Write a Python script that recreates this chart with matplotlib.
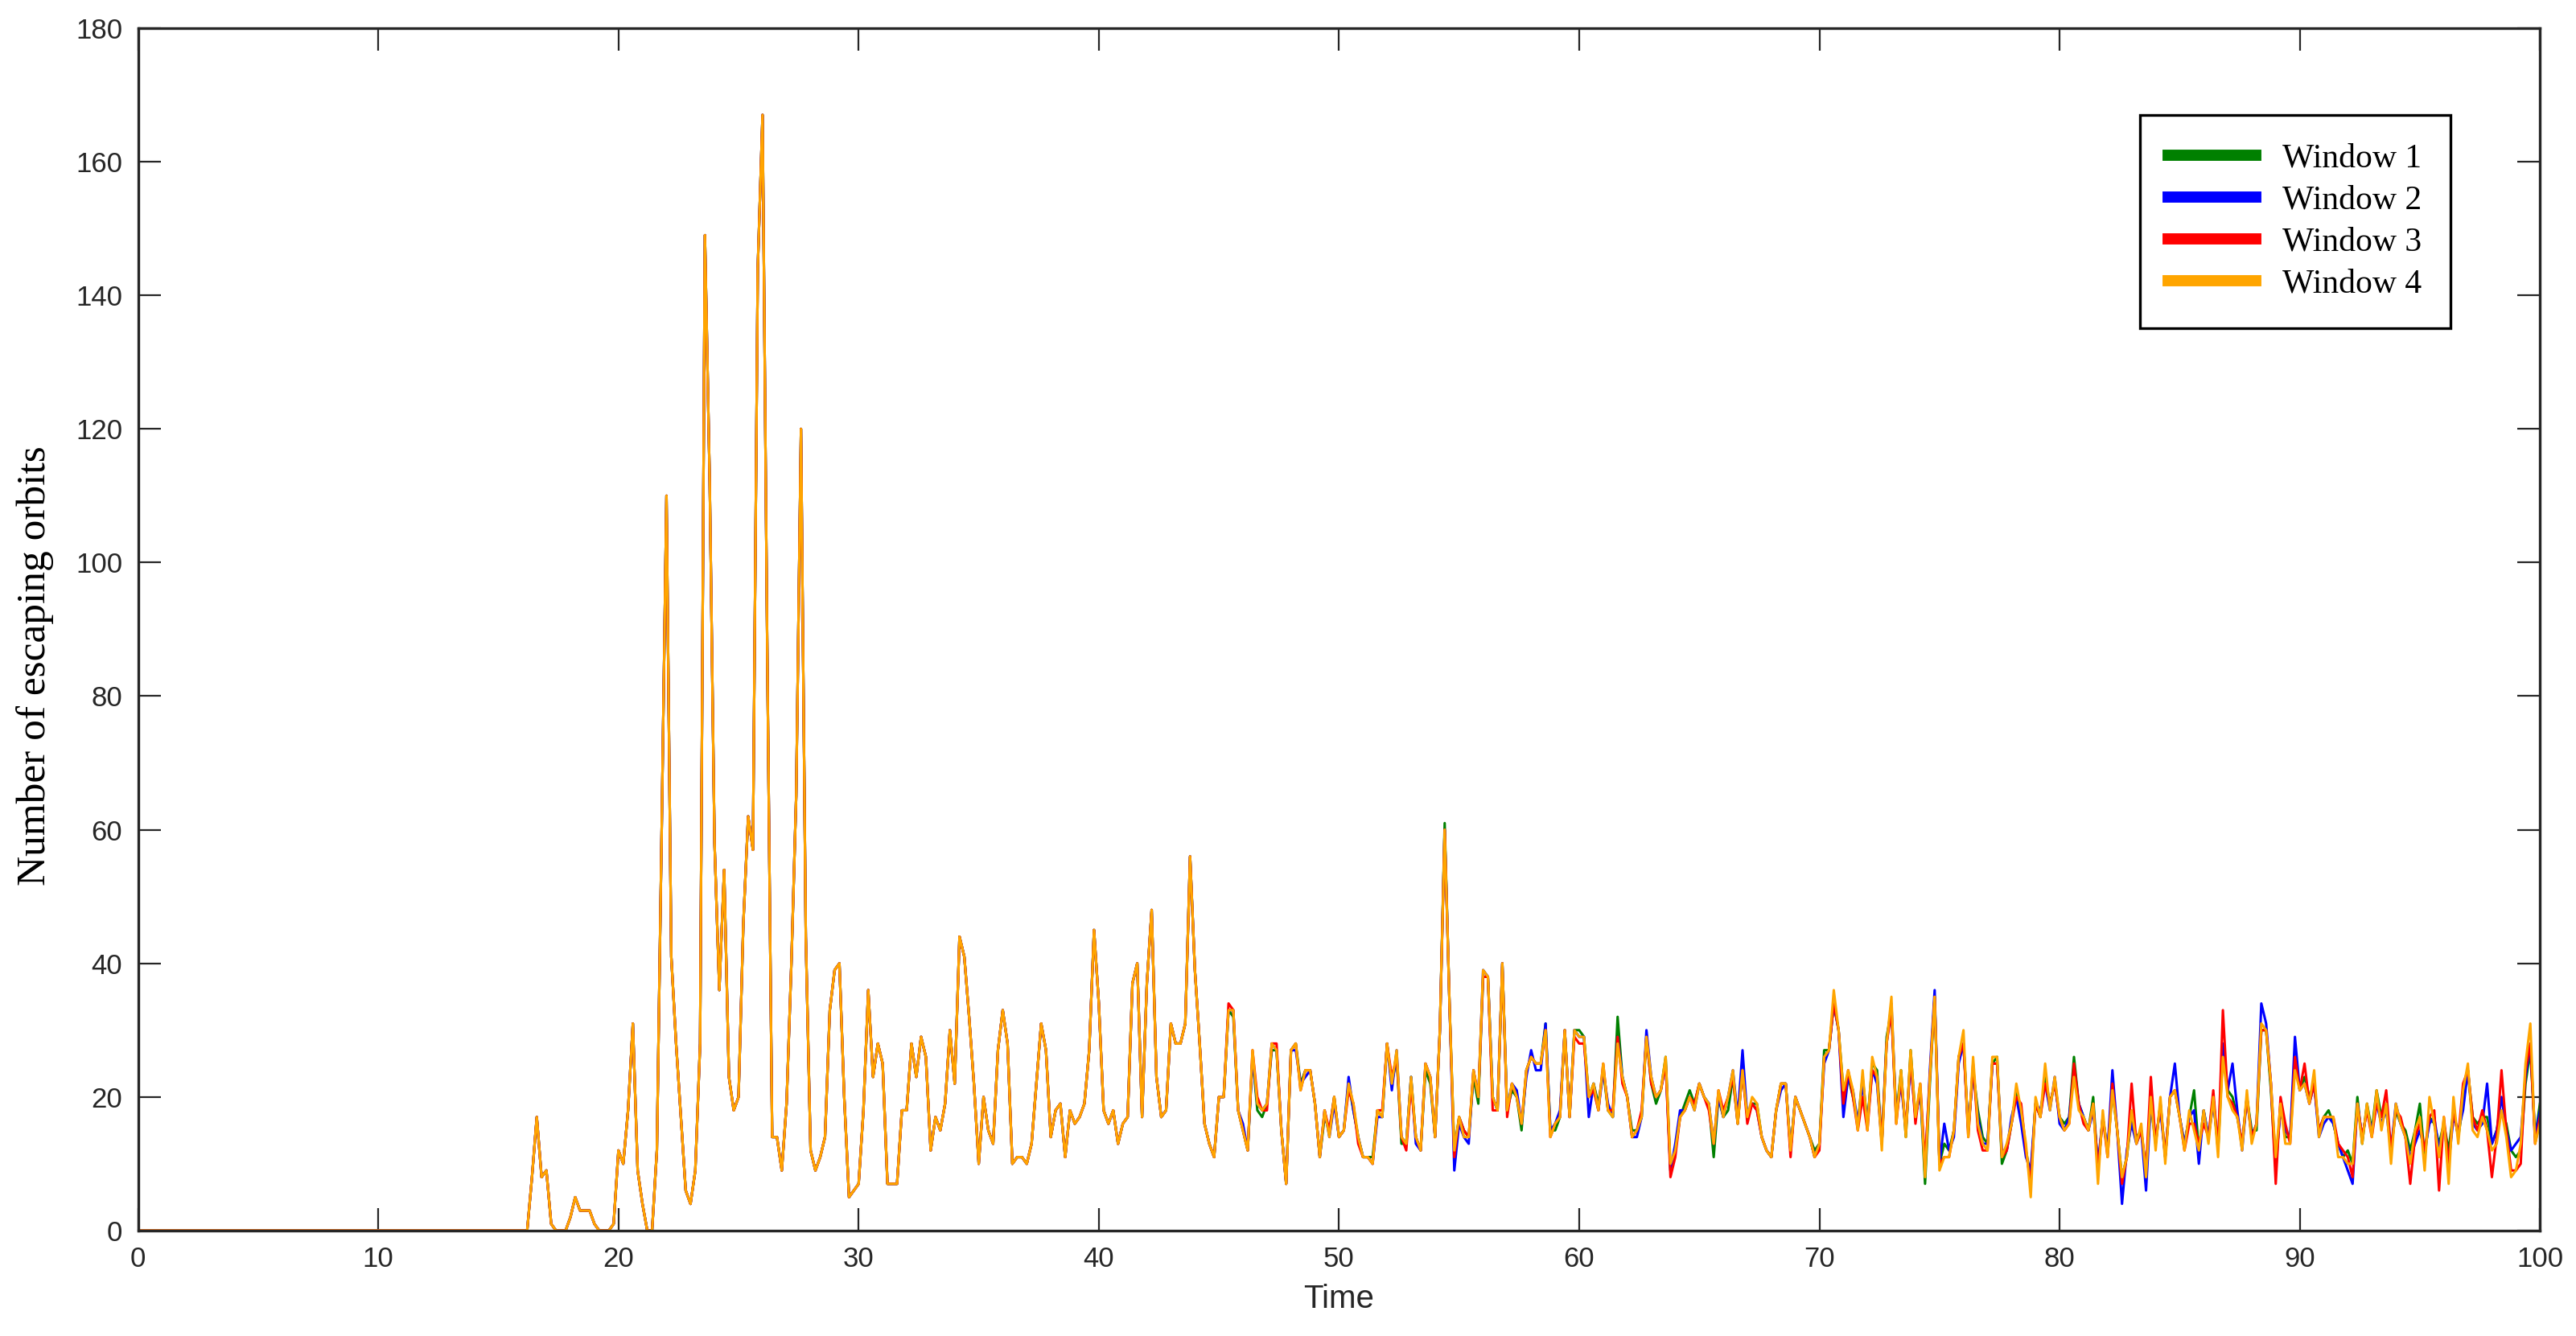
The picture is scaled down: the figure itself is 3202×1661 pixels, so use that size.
import matplotlib.pyplot as plt
import numpy as np

plt.rcParams['font.family'] = ['Liberation Sans', 'DejaVu Sans']

# time axis (step 0.2)
t = np.linspace(0, 100, 501)

# t = 0 .. 15.8 : nothing escapes
quiet = [0] * 80

# t = 16.0 .. 44.8 : all four windows coincide
early = [
    0, 0, 8, 17, 8, 9, 1, 0, 0, 0,
    2, 5, 3, 3, 3, 1, 0, 0, 0, 1,
    12, 10, 18, 31, 9, 4, 0, 0, 12, 60,
    110, 41, 28, 17, 6, 4, 9, 28, 149, 112,
    58, 36, 54, 23, 18, 20, 46, 62, 57, 144,
    167, 85, 14, 14, 9, 19, 40, 65, 120, 44,
    12, 9, 11, 14, 33, 39, 40, 20, 5, 6,
    7, 18, 36, 23, 28, 25, 7, 7, 7, 18,
    18, 28, 23, 29, 26, 12, 17, 15, 19, 30,
    22, 44, 41, 32, 22, 10, 20, 15, 13, 27,
    33, 28, 10, 11, 11, 10, 13, 22, 31, 27,
    14, 18, 19, 11, 18, 16, 17, 19, 27, 45,
    34, 18, 16, 18, 13, 16, 17, 37, 40, 17,
    37, 48, 23, 17, 18, 31, 28, 28, 31, 56,
    39, 28, 16, 13, 11,
]

# t = 45.0 .. 100.0
w1_late = [
    20, 20, 33, 32, 18, 15, 12, 26, 18, 17,
    19, 27, 27, 15, 7, 27, 28, 22, 24, 24,
    19, 11, 17, 15, 20, 14, 15, 22, 18, 14,
    11, 11, 11, 18, 17, 28, 22, 26, 13, 13,
    23, 14, 12, 24, 22, 14, 30, 61, 34, 12,
    17, 15, 14, 23, 19, 38, 38, 20, 18, 40,
    18, 21, 20, 15, 24, 26, 25, 25, 31, 15,
    15, 17, 30, 17, 30, 30, 29, 20, 22, 19,
    24, 18, 17, 32, 23, 20, 15, 15, 17, 29,
    22, 19, 21, 26, 9, 12, 17, 19, 21, 19,
    22, 20, 19, 11, 20, 17, 18, 23, 16, 24,
    17, 19, 19, 14, 12, 11, 18, 22, 22, 12,
    20, 18, 16, 14, 12, 13, 27, 27, 34, 30,
    21, 23, 20, 16, 23, 16, 25, 24, 13, 29,
    33, 17, 24, 14, 27, 17, 21, 7, 22, 35,
    10, 13, 12, 15, 26, 28, 15, 24, 18, 14,
    13, 25, 26, 10, 12, 16, 21, 17, 12, 8,
    19, 17, 23, 19, 22, 17, 16, 17, 26, 19,
    17, 15, 20, 9, 17, 12, 21, 15, 8, 11,
    17, 14, 15, 9, 19, 13, 19, 11, 20, 21,
    17, 13, 17, 21, 12, 18, 14, 20, 12, 27,
    21, 20, 17, 13, 20, 15, 15, 30, 30, 21,
    9, 19, 14, 14, 26, 21, 23, 20, 22, 15,
    17, 18, 16, 13, 11, 12, 10, 20, 13, 19,
    15, 21, 17, 19, 12, 18, 16, 15, 12, 15,
    19, 11, 17, 16, 13, 16, 12, 18, 14, 19,
    24, 17, 16, 17, 17, 13, 15, 18, 16, 12,
    11, 12, 22, 27, 14, 19,
]
w2_late = [
    20, 20, 33, 33, 18, 16, 12, 26, 19, 18,
    19, 28, 27, 15, 7, 27, 27, 22, 23, 24,
    19, 11, 18, 14, 19, 14, 15, 23, 18, 14,
    11, 11, 10, 17, 17, 28, 21, 27, 14, 13,
    23, 13, 12, 25, 23, 14, 30, 60, 34, 9,
    16, 14, 13, 24, 20, 39, 38, 20, 18, 40,
    18, 22, 21, 16, 23, 27, 24, 24, 31, 15,
    16, 18, 30, 17, 30, 29, 29, 17, 22, 18,
    24, 19, 17, 29, 23, 20, 14, 14, 17, 30,
    23, 20, 21, 25, 9, 13, 18, 18, 20, 18,
    22, 20, 19, 13, 20, 17, 20, 24, 17, 27,
    17, 19, 18, 14, 12, 11, 18, 21, 22, 12,
    20, 18, 16, 14, 11, 13, 25, 27, 34, 30,
    17, 23, 21, 16, 22, 16, 24, 22, 13, 28,
    34, 17, 22, 15, 25, 17, 21, 9, 24, 36,
    10, 16, 12, 14, 25, 28, 15, 24, 17, 13,
    13, 25, 25, 12, 12, 17, 20, 16, 11, 9,
    19, 18, 22, 18, 23, 16, 15, 17, 24, 19,
    17, 15, 18, 10, 17, 12, 24, 15, 4, 12,
    16, 13, 15, 6, 19, 14, 18, 11, 20, 25,
    17, 13, 17, 18, 10, 18, 14, 19, 13, 28,
    21, 25, 18, 12, 20, 14, 16, 34, 31, 22,
    10, 18, 15, 14, 29, 21, 22, 19, 22, 14,
    16, 17, 16, 13, 11, 9, 7, 19, 14, 18,
    15, 19, 16, 18, 12, 19, 16, 14, 11, 13,
    15, 12, 16, 17, 12, 16, 10, 17, 15, 18,
    24, 16, 15, 16, 22, 13, 15, 20, 15, 12,
    13, 14, 23, 28, 14, 18,
]
w3_late = [
    20, 20, 34, 33, 18, 15, 12, 27, 20, 18,
    18, 28, 28, 15, 7, 27, 28, 21, 24, 24,
    19, 11, 18, 15, 20, 14, 15, 21, 19, 13,
    11, 11, 10, 18, 18, 28, 23, 26, 14, 12,
    22, 14, 12, 25, 23, 14, 30, 60, 34, 11,
    17, 15, 14, 24, 20, 38, 38, 18, 18, 40,
    17, 22, 20, 16, 24, 26, 25, 25, 30, 14,
    16, 17, 30, 17, 29, 28, 28, 20, 21, 18,
    25, 18, 18, 29, 22, 20, 14, 15, 18, 29,
    22, 20, 21, 25, 8, 11, 17, 18, 20, 19,
    22, 20, 18, 13, 21, 18, 20, 23, 16, 24,
    16, 19, 18, 14, 12, 11, 18, 22, 22, 11,
    20, 18, 16, 14, 11, 12, 26, 27, 34, 30,
    19, 24, 20, 15, 20, 15, 24, 23, 13, 28,
    33, 16, 23, 15, 26, 16, 22, 10, 23, 35,
    10, 11, 11, 15, 26, 28, 14, 25, 15, 12,
    12, 25, 25, 11, 12, 16, 20, 19, 12, 7,
    19, 17, 22, 19, 22, 17, 15, 16, 25, 19,
    16, 15, 19, 9, 17, 11, 22, 15, 7, 11,
    22, 13, 15, 9, 23, 13, 19, 11, 20, 21,
    17, 12, 16, 16, 13, 16, 14, 21, 12, 33,
    20, 19, 17, 13, 20, 14, 16, 30, 30, 22,
    7, 20, 16, 13, 26, 21, 25, 19, 22, 15,
    17, 17, 17, 13, 12, 11, 8, 19, 14, 18,
    14, 19, 17, 21, 12, 18, 17, 14, 7, 14,
    16, 12, 17, 18, 6, 17, 10, 18, 14, 22,
    24, 17, 15, 18, 15, 8, 14, 24, 15, 9,
    9, 10, 24, 28, 13, 17,
]
w4_late = [
    20, 20, 33, 33, 18, 15, 12, 27, 19, 18,
    19, 28, 27, 15, 7, 27, 28, 21, 24, 24,
    19, 11, 18, 14, 20, 14, 15, 22, 19, 14,
    11, 11, 10, 18, 17, 28, 22, 27, 14, 13,
    23, 14, 12, 25, 23, 14, 30, 60, 34, 12,
    17, 14, 14, 24, 20, 39, 38, 20, 18, 40,
    18, 22, 20, 16, 24, 26, 25, 25, 30, 14,
    16, 17, 30, 17, 30, 29, 29, 20, 22, 18,
    25, 18, 17, 28, 23, 20, 14, 15, 17, 29,
    23, 20, 21, 26, 10, 12, 17, 18, 20, 18,
    22, 20, 19, 13, 21, 17, 20, 24, 16, 24,
    17, 20, 19, 14, 12, 11, 18, 22, 22, 12,
    20, 18, 16, 14, 11, 13, 26, 27, 36, 30,
    21, 24, 21, 15, 24, 15, 26, 23, 12, 28,
    35, 16, 24, 14, 27, 17, 22, 8, 23, 35,
    9, 11, 11, 15, 26, 30, 14, 26, 16, 13,
    12, 26, 26, 11, 13, 16, 22, 18, 13, 5,
    20, 17, 25, 18, 23, 17, 15, 16, 23, 18,
    17, 15, 19, 7, 18, 11, 21, 15, 8, 11,
    18, 13, 16, 8, 20, 12, 20, 10, 20, 21,
    17, 12, 18, 15, 12, 18, 13, 20, 11, 26,
    20, 18, 17, 12, 21, 13, 16, 31, 30, 22,
    11, 19, 13, 13, 24, 21, 22, 19, 24, 14,
    17, 17, 17, 11, 11, 10, 10, 19, 13, 19,
    14, 21, 15, 19, 10, 19, 16, 14, 10, 15,
    17, 9, 20, 16, 11, 17, 7, 20, 13, 21,
    25, 15, 14, 17, 15, 12, 13, 18, 14, 8,
    9, 13, 25, 31, 13, 16,
]

labels = ["Window 1", "Window 2", "Window 3", "Window 4"]
colors = ["#008000", "#0000ff", "#ff0000", "#ffa500"]
series = [quiet + early + w for w in (w1_late, w2_late, w3_late, w4_late)]

fig = plt.figure(figsize=(32.02, 16.61), dpi=100)
ax = fig.add_axes([0.0536, 0.0789, 0.9324, 0.9001])

for y, c, lab in zip(series, colors, labels):
    ax.plot(t, np.array(y), color=c, lw=2.2, label=lab)

ax.set_xlim(0, 100)
ax.set_ylim(0, 180)
ax.set_xticks(np.arange(0, 101, 10))
ax.set_yticks(np.arange(0, 181, 20))
ax.tick_params(direction="in", length=20, width=1.6, top=True, right=True,
               labelsize=25, labelcolor="#262626", color="#262626", pad=14)
for s in ax.spines.values():
    s.set_linewidth(2.4)
    s.set_color("#262626")

ax.set_xlabel("Time", fontsize=29, color="#262626", labelpad=10)
ax.set_ylabel("Number of escaping orbits", fontsize=37,
              family=["Liberation Serif", "DejaVu Serif"])
ax.yaxis.set_label_coords(-0.035, 0.47)

leg = ax.legend(loc="upper left", bbox_to_anchor=(2660 / 3202, 1 - 143 / 1661),
                bbox_transform=fig.transFigure, borderaxespad=0,
                prop={"family": ["Liberation Serif", "DejaVu Serif"], "size": 30},
                fancybox=False, edgecolor="black", framealpha=1,
                handlelength=2.6, handletextpad=0.8, borderpad=0.85,
                labelspacing=0.32)
leg.get_frame().set_linewidth(2.4)
for line in leg.get_lines():
    line.set_linewidth(10)

fig.savefig("out.png", dpi=100)
